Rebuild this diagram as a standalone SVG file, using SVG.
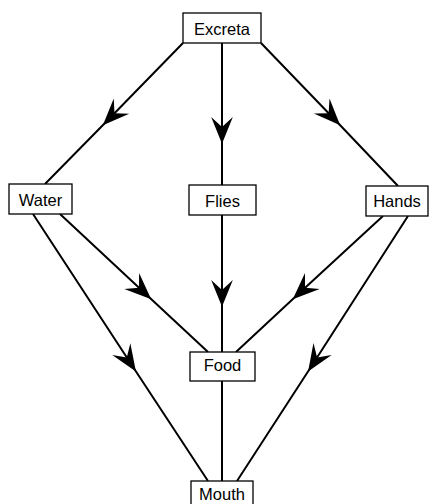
<svg xmlns="http://www.w3.org/2000/svg" width="430" height="504" viewBox="0 0 430 504">
<style>
.box{fill:#fff;stroke:#000;stroke-width:1.3}
.lbl{font-family:"Liberation Sans",Arial,sans-serif;font-size:16.5px;fill:#000;text-anchor:middle}
.ln{fill:none;stroke:#000;stroke-width:2;marker-mid:url(#ah)}
.pl{fill:none;stroke:#000;stroke-width:2}
</style>
<defs>
<marker id="ah" markerUnits="userSpaceOnUse" orient="auto" refX="0" refY="0" markerWidth="30" markerHeight="30" viewBox="-16 -8 18 16" overflow="visible">
<path d="M1,0 L-15,-6.5 L-9,0 L-15,6.5 Z" fill="#000"/>
</marker>
</defs>
<rect width="430" height="504" fill="#fff"/>
<g id="connectors">
<path class="ln" d="M183,43 L104,124 L45,184"/>
<path class="ln" d="M222,43 L222,142 L222,185"/>
<path class="ln" d="M261,43 L339,124 L398,186"/>
<path class="ln" d="M60,214 L150,298 L208,352"/>
<path class="ln" d="M222,215 L222,305 L222,352"/>
<path class="ln" d="M383,216 L294,298 L236,352"/>
<path class="ln" d="M33,214 L135,370 L208,481"/>
<path class="ln" d="M408,216 L309,370 L237,481"/>
<path class="pl" d="M222,381 L222,481"/>
</g>
<g id="excreta"><rect class="box" x="183" y="13" width="78" height="30"/><text class="lbl" x="222" y="34.5">Excreta</text></g>
<g id="water"><rect class="box" x="9" y="184" width="63" height="30"/><text class="lbl" x="40.5" y="206">Water</text></g>
<g id="flies"><rect class="box" x="189" y="185" width="67" height="30"/><text class="lbl" x="222.5" y="206.5">Flies</text></g>
<g id="hands"><rect class="box" x="366" y="186" width="62" height="30"/><text class="lbl" x="397" y="206.5">Hands</text></g>
<g id="food"><rect class="box" x="190" y="352" width="65" height="29"/><text class="lbl" x="222.5" y="371">Food</text></g>
<g id="mouth"><rect class="box" x="191" y="481" width="62" height="30"/><text class="lbl" x="222" y="500">Mouth</text></g>
</svg>
